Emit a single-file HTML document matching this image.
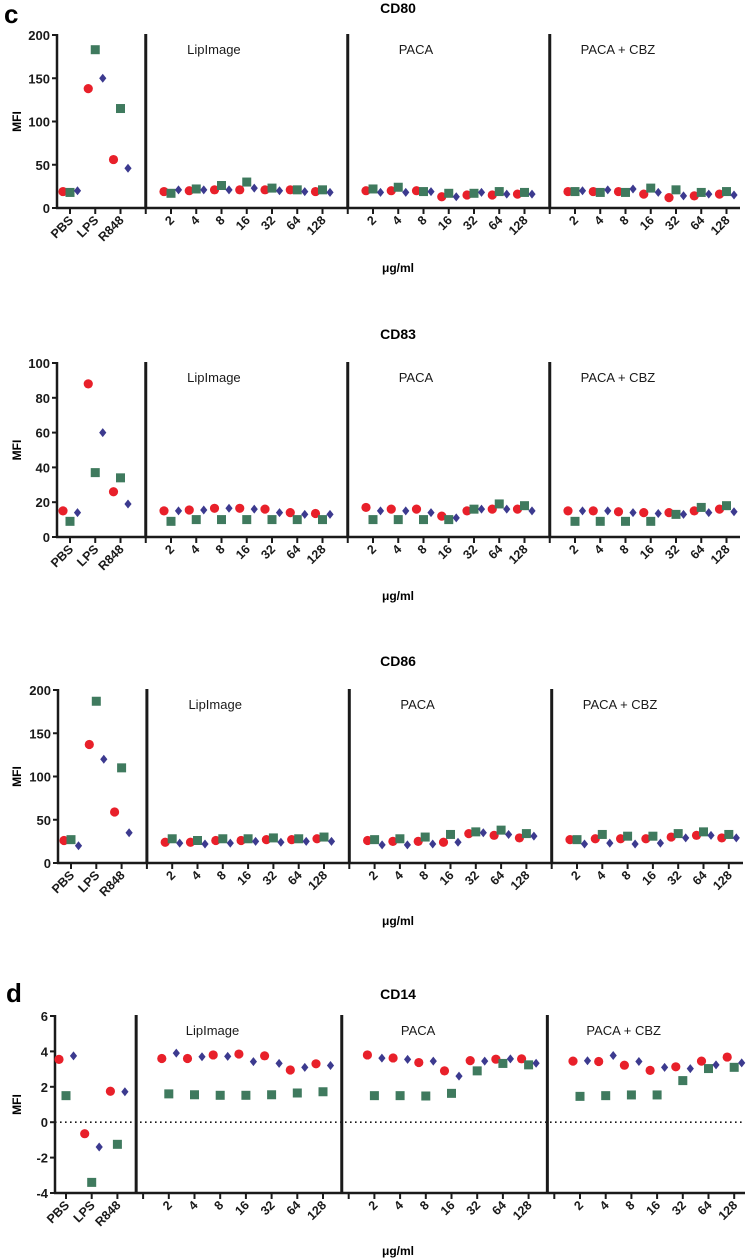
<!DOCTYPE html>
<html><head><meta charset="utf-8"><style>
html,body{margin:0;padding:0;background:#fff;}
svg{display:block;font-family:"Liberation Sans",Arial,sans-serif;}
</style></head><body>
<svg id="fig" width="752" height="1258" viewBox="0 0 752 1258" xmlns="http://www.w3.org/2000/svg">
<text x="4" y="23" font-size="26" font-weight="bold">c</text>
<text x="6" y="1002" font-size="26" font-weight="bold">d</text>
</svg>
<script>
// ---- data ----
const categories = ["PBS","LPS","R848","","2","4","8","16","32","64","128","","2","4","8","16","32","64","128","","2","4","8","16","32","64","128"];
const groupNames = ["LipImage","PACA","PACA + CBZ"];
const panelTitles = ["CD80","CD83","CD86","CD14"];
const ticksCD80 = [0,50,100,150,200];
const ticksCD83 = [0,20,40,60,80,100];
const ticksCD86 = [0,50,100,150,200];
const ticksCD14 = [-4,-2,0,2,4,6];
// values: controls (PBS,LPS,R848) then LipImage(7), PACA(7), PACA+CBZ(7)
const cd80Red   = [19,138,56, 19,20,21,21,21,21,19, 20,20,20,13,15,15,16, 19,19,19,16,12,14,16];
const cd80Green = [18,183,115, 17,22,26,30,23,21,21, 22,24,19,17,17,19,18, 19,18,18,23,21,18,19];
const cd80Blue  = [20,150,46, 21,21,21,23,20,19,18, 18,18,19,13,18,16,16, 20,21,22,18,14,16,15];
const cd83Red   = [15,88,26, 15,15.5,16.5,16.5,16,14,13.5, 17,16,16,12,15,16,16, 15,15,14.5,14,14,15,16];
const cd83Green = [9,37,34, 9,10,10,10,10,10,10, 10,10,10,10,16,19,18, 9,9,9,9,13,17,18];
const cd83Blue  = [14,60,19, 15,15.5,16.5,16,14,13,13, 15,15,14,11,16,16,15, 15,15,14,13.5,13,14,14.5];
const cd86Red   = [26,137,59, 24,24,26,26,27,27,28, 26,25,25,24,34,32,29, 27,28,28,28,30,32,29];
const cd86Green = [27,187,110, 28,26,28,28,29,28,30, 27,28,30,33,36,38,34, 27,33,31,31,34,36,33];
const cd86Blue  = [20,120,35, 23,22,23,25,24,25,25, 21,21,22,24,35,33,31, 22,23,22,23,29,32,29];
const cd14Red   = [3.55,-0.65,1.75, 3.6,3.6,3.8,3.85,3.75,2.95,3.3, 3.8,3.63,3.37,2.9,3.48,3.56,3.58, 3.45,3.43,3.22,2.93,3.13,3.45,3.68];
const cd14Green = [1.5,-3.4,-1.25, 1.6,1.55,1.52,1.52,1.55,1.65,1.72, 1.5,1.5,1.48,1.63,2.9,3.32,3.24, 1.46,1.5,1.54,1.54,2.35,3.03,3.1];
const cd14Blue  = [3.75,-1.4,1.72, 3.9,3.7,3.72,3.42,3.32,3.1,3.2, 3.62,3.55,3.45,2.6,3.45,3.58,3.33, 3.47,3.77,3.43,3.1,3.03,3.24,3.35];

// ---- layout ----
const NS = "http://www.w3.org/2000/svg";
const svg = document.getElementById('fig');
function mk(tag, attrs, parent){
  const e = document.createElementNS(NS, tag);
  for (const k in attrs) e.setAttribute(k, attrs[k]);
  (parent||svg).appendChild(e);
  return e;
}
const panels = [
  {title:panelTitles[0], ticks:ticksCD80, red:cd80Red, green:cd80Green, blue:cd80Blue, top:35, bottom:208, ax:57, x0:70, step:25.25, dOff:0, end:740, titleY:13, unitY:272, ymin:0, ymax:200, zero:false},
  {title:panelTitles[1], ticks:ticksCD83, red:cd83Red, green:cd83Green, blue:cd83Blue, top:363, bottom:537, ax:57, x0:70, step:25.25, dOff:0, end:740, titleY:339, unitY:600, ymin:0, ymax:100, zero:false},
  {title:panelTitles[2], ticks:ticksCD86, red:cd86Red, green:cd86Green, blue:cd86Blue, top:690, bottom:863, ax:58, x0:71, step:25.3, dOff:0, end:743, titleY:666, unitY:925, ymin:0, ymax:200, zero:false},
  {title:panelTitles[3], ticks:ticksCD14, red:cd14Red, green:cd14Green, blue:cd14Blue, top:1016, bottom:1193, ax:55, x0:66, step:25.7, dOff:-0.27, end:745, titleY:999, unitY:1255, ymin:-4, ymax:6, zero:true}
];
// map value index (0..23) to category index (skip divider slots)
function catIndex(i){ return i<3 ? i : (i<10 ? i+1 : (i<17 ? i+2 : i+3)); }

panels.forEach((p, pi) => {
  const g = mk('g', {});
  
  
  const xs = k => p.x0 + p.step * k;
  const ys = v => p.bottom - (v - p.ymin) / (p.ymax - p.ymin) * (p.bottom - p.top);
  const mid = (p.ax + p.end) / 2 + 2;

  const t = mk('text', {x: 398, y: p.titleY, 'font-size': 14, 'font-weight': 'bold', 'text-anchor': 'middle'}, g);
  t.textContent = p.title;
  
  

  // y axis
  const ya = mk('line', {x1: p.ax, y1: p.top - 1, x2: p.ax, y2: p.bottom, stroke: '#1a1a1a', 'stroke-width': 2.5}, g);
  
  
  p.ticks.forEach(v => {
    const y = ys(v);
    const tk = mk('line', {x1: p.ax - 5, y1: y, x2: p.ax, y2: y, stroke: '#1a1a1a', 'stroke-width': 2}, g);
    
    
    const tl = mk('text', {x: p.ax - 7, y: y + 5, 'font-size': 13, 'font-weight': 'bold', 'text-anchor': 'end', fill: '#1a1a1a'}, g);
    tl.textContent = v;
    
    
  });
  const yt = mk('text', {x: 0, y: 0, 'font-size': 12, 'font-weight': 'bold', 'text-anchor': 'middle', transform: `translate(21,${(p.top+p.bottom)/2}) rotate(-90)`}, g);
  yt.textContent = 'MFI';
  
  

  // x axis
  const xa = mk('line', {x1: p.ax - 1, y1: p.bottom, x2: p.end, y2: p.bottom, stroke: '#1a1a1a', 'stroke-width': 2.5}, g);
  
  
  categories.forEach((c, k) => {
    const x = xs(k);
    const tk = mk('line', {x1: x, y1: p.bottom, x2: x, y2: p.bottom + 6, stroke: '#1a1a1a', 'stroke-width': 2}, g);
    
    
    if (c) {
      const tl = mk('text', {x: 0, y: 0, 'font-size': 12.5, 'font-weight': 'bold', 'text-anchor': 'end', fill: '#1a1a1a', transform: `translate(${x+4},${p.bottom+13}) rotate(-45)`}, g);
      tl.textContent = c;
      
      
    }
  });
  const ut = mk('text', {x: 398, y: p.unitY, 'font-size': 12, 'font-weight': 'bold', 'text-anchor': 'middle'}, g);
  ut.textContent = 'μg/ml';
  
  

  if (p.zero) {
    const zl = mk('line', {x1: p.ax, y1: ys(0), x2: p.end, y2: ys(0), stroke: '#1a1a1a', 'stroke-width': 1.6, 'stroke-dasharray': '1.6 3.4'}, g);
    
    
  }

  // dividers and group labels
  [3, 11, 19].forEach((k, gi) => {
    const x = xs(k + p.dOff);
    const dv = mk('line', {x1: x, y1: p.top - 1, x2: x, y2: p.bottom + 1, stroke: '#1a1a1a', 'stroke-width': 3}, g);
    
    
    const gl = mk('text', {x: xs(k + 2.7), y: p.top + 19, 'font-size': 13, 'text-anchor': 'middle', fill: '#1a1a1a'}, g);
    gl.textContent = groupNames[gi];
    
    
  });

  // points
  p.red.forEach((v, i) => {
    const x = xs(catIndex(i)) - 7;
    const c = mk('circle', {cx: x, cy: ys(v), r: 4.6, fill: '#e8202a'}, g);
    
    
  });
  p.green.forEach((v, i) => {
    const x = xs(catIndex(i));
    const s = mk('rect', {x: x - 4.5, y: ys(v) - 4.5, width: 9, height: 9, fill: '#3f7a5e'}, g);
    
    
  });
  p.blue.forEach((v, i) => {
    const x = xs(catIndex(i)) + 7.5;
    const y = ys(v);
    const d = mk('polygon', {points: `${x},${y-4.5} ${x+3.6},${y} ${x},${y+4.5} ${x-3.6},${y}`, fill: '#3c3a8f'}, g);
    
    
  });
});
</script>
</body></html>
